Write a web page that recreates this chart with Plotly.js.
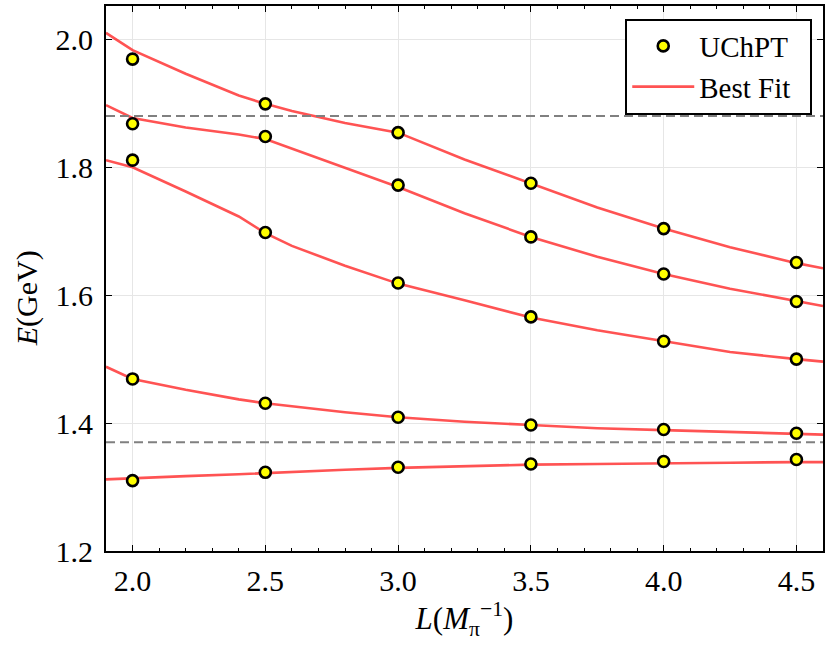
<!DOCTYPE html>
<html>
<head>
<meta charset="utf-8">
<script src="https://cdn.plot.ly/plotly-3.0.1.min.js"></script>
<style>
  html, body { margin: 0; padding: 0; background: #fff; }
  #chart { width: 830px; height: 646px; }
</style>
</head>
<body>
<div id="chart"></div>
<script>
// box sizes L (in units of 1/M_pi) where the UChPT levels were computed
const boxL = [2.0, 2.5, 3.0, 3.5, 4.0, 4.5];
const level1 = [1.969, 1.899, 1.854, 1.775, 1.704, 1.651];
const level2 = [1.868, 1.848, 1.772, 1.691, 1.633, 1.590];
const level3 = [1.811, 1.698, 1.619, 1.566, 1.528, 1.500];
const level4 = [1.469, 1.431, 1.409, 1.397, 1.390, 1.384];
const level5 = [1.310, 1.323, 1.331, 1.336, 1.340, 1.343];

// best-fit curves
const fitL = [1.9, 2.0, 2.2, 2.4, 2.5, 2.6, 2.8, 3.0, 3.25, 3.5, 3.75, 4.0, 4.25, 4.5, 4.6];
const fit1 = [2.010, 1.983, 1.946, 1.912, 1.899, 1.888, 1.869, 1.854, 1.812, 1.775, 1.737, 1.704, 1.675, 1.650, 1.642];
const fit2 = [1.897, 1.877, 1.862, 1.851, 1.844, 1.829, 1.800, 1.769, 1.728, 1.691, 1.660, 1.633, 1.610, 1.590, 1.583];
const fit3 = [1.811, 1.800, 1.762, 1.723, 1.697, 1.677, 1.646, 1.618, 1.592, 1.565, 1.545, 1.528, 1.511, 1.500, 1.496];
const fit4 = [1.488, 1.469, 1.452, 1.437, 1.431, 1.426, 1.417, 1.409, 1.402, 1.397, 1.392, 1.389, 1.386, 1.384, 1.382];
const fit5 = [1.312, 1.314, 1.317, 1.320, 1.322, 1.324, 1.327, 1.330, 1.333, 1.335, 1.336, 1.3375, 1.338, 1.339, 1.339];

// thresholds (dashed)
const thresholds = [1.370, 1.880];

const serif = "Liberation Serif";
const red = "rgba(255,40,40,0.8)";

var traces = [];
[fit1, fit2, fit3, fit4, fit5].forEach(function (f, i) {
  traces.push({
    x: fitL,
    y: f,
    type: "scatter",
    mode: "lines",
    name: "Best Fit\u2002",
    legendgroup: "fit",
    legendrank: 2,
    showlegend: i === 0,
    line: { color: red, width: 2.6 },
    hoverinfo: "x+y",
  });
});

var ptsX = [], ptsY = [];
[level1, level2, level3, level4, level5].forEach(function (lv) {
  lv.forEach(function (v, j) { ptsX.push(boxL[j]); ptsY.push(v); });
});

traces.push({
  x: ptsX,
  y: ptsY,
  type: "scatter",
  mode: "markers",
  name: "UChPT",
  legendrank: 1,
  marker: { color: "#ffff00", size: 11, line: { color: "#000", width: 2.6 } },
  hoverinfo: "x+y",
});

var shapes = thresholds.map(function (t) {
  return {
    type: "line", xref: "paper", x0: 0, x1: 1, yref: "y", y0: t, y1: t,
    line: { color: "#808080", width: 2.2, dash: "9px,5px" },
    layer: "above",
  };
});

var axisCommon = {
  showline: true,
  linecolor: "#000",
  linewidth: 2,
  mirror: "ticks",
  ticks: "inside",
  ticklen: 6,
  tickwidth: 1.2,
  tickcolor: "#000",
  showgrid: true,
  gridcolor: "#e6e6e6",
  gridwidth: 1,
  zeroline: false,
  tickfont: { family: serif, size: 30, color: "#000" },
};

var layout = {
  width: 830,
  height: 646,
  margin: { l: 106, r: 7, t: 6, b: 95 },
  paper_bgcolor: "#fff",
  plot_bgcolor: "#fff",
  font: { family: serif, color: "#000" },
  xaxis: Object.assign({}, axisCommon, {
    range: [1.9, 4.6],
    tickvals: [2.0, 2.5, 3.0, 3.5, 4.0, 4.5],
    ticktext: ["2.0", "2.5", "3.0", "3.5", "4.0", "4.5"],
    ticklabelstandoff: 2,
    minor: { dtick: 0.1, ticks: "inside", ticklen: 3, tickcolor: "#000", showgrid: false },
    title: { text: "<i>L</i>(<i>M</i><sub>π</sub><sup>−1</sup>)", font: { family: serif, size: 31 }, standoff: 4 },
  }),
  yaxis: Object.assign({}, axisCommon, {
    range: [1.2, 2.052],
    tickvals: [1.2, 1.4, 1.6, 1.8, 2.0],
    ticktext: ["1.2", "1.4", "1.6", "1.8", "2.0"],
    ticklabelstandoff: 5,
  }),
  annotations: [{
    text: "<i>E</i>(GeV)",
    xref: "paper", yref: "paper",
    x: -0.11, y: 0.464,
    xanchor: "center", yanchor: "middle",
    textangle: -90,
    showarrow: false,
    font: { family: serif, size: 30, color: "#000" },
  }],
  shapes: shapes,
  showlegend: true,
  legend: {
    x: 0.985, xanchor: "right",
    y: 0.977, yanchor: "top",
    bgcolor: "#fff",
    bordercolor: "#000",
    borderwidth: 2,
    itemwidth: 62,
    font: { family: serif, size: 29, color: "#000" },
    tracegroupgap: 0,
  },
};

var config = { displayModeBar: false, responsive: false };

Plotly.newPlot("chart", traces, layout, config);
</script>
</body>
</html>
